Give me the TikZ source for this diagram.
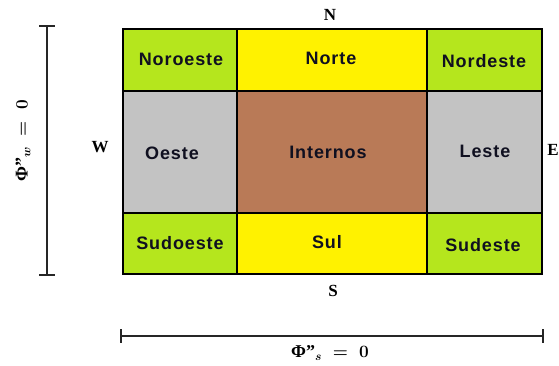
\documentclass[tikz,border=0pt]{standalone}
\usepackage{amsmath}
\usepackage{fontspec}
\setmainfont{Liberation Serif}
\newfontfamily\cellfont[LetterSpace=5]{Liberation Sans}
\definecolor{cgreen}{HTML}{B5E61D}
\definecolor{cyellow}{HTML}{FFF200}
\definecolor{cgray}{HTML}{C3C3C3}
\definecolor{cbrown}{HTML}{B97A57}
\definecolor{ctext}{HTML}{101020}
\newcommand{\dq}{\symbol{"22}}
\begin{document}
\begin{tikzpicture}[x=1pt,y=-1pt,
  cell/.style={draw=black,line width=1.8pt},
  celltext/.style={font=\cellfont\bfseries\fontsize{18}{20}\selectfont,text=ctext,inner sep=0pt},
  dir/.style={font=\bfseries\fontsize{17}{19}\selectfont,inner sep=0pt},
  phi/.style={font=\bfseries\boldmath\fontsize{18}{20}\selectfont,inner sep=0pt},
  bar/.style={line width=2pt,draw=black!85}]
\useasboundingbox (0,0) rectangle (559,365);
% cells
\fill[cgreen] (123,29) rectangle (237,91);
\fill[cyellow] (237,29) rectangle (427,91);
\fill[cgreen] (427,29) rectangle (542,91);
\fill[cgray] (123,91) rectangle (237,213);
\fill[cbrown] (237,91) rectangle (427,213);
\fill[cgray] (427,91) rectangle (542,213);
\fill[cgreen] (123,213) rectangle (237,274);
\fill[cyellow] (237,213) rectangle (427,274);
\fill[cgreen] (427,213) rectangle (542,274);
\draw[cell] (123,29) rectangle (542,274);
\draw[cell] (237,29) -- (237,274) (427,29) -- (427,274)
  (123,91) -- (542,91) (123,213) -- (542,213);
% cell texts
\node[celltext] (nw) at (181,59) {Noroeste};
\node[celltext] (n) at (331,58) {Norte};
\node[celltext] (ne) at (484,61) {Nordeste};
\node[celltext] (w) at (172,153) {Oeste};
\node[celltext] (c) at (328,152) {Internos};
\node[celltext] (e) at (485,151) {Leste};
\node[celltext] (sw) at (180,243) {Sudoeste};
\node[celltext] (s) at (327,242) {Sul};
\node[celltext] (se) at (483,245) {Sudeste};
% directions
\node[dir] (dn) at (330,15) {N};
\node[dir] (dw) at (100,147) {W};
\node[dir] (de) at (553,150) {E};
\node[dir] (ds) at (333,291) {S};
% bars
\coordinate (vt) at (47,26);
\coordinate (vb) at (47,275);
\draw[bar] (vt) -- (vb);
\draw[bar] (39,26) -- (55,26) (39,275) -- (55,275);
\coordinate (hl) at (121,336);
\coordinate (hr) at (543,336);
\draw[bar] (hl) -- (hr);
\draw[bar] (121,329) -- (121,343) (543,329) -- (543,343);
\node[phi,rotate=90] (phw) at (23,141) {Φ\dq$_{w} \;=\; 0$};
\node[phi] (phs) at (330,353) {Φ\dq$_{s} \;=\; 0$};
\end{tikzpicture}
\end{document}
